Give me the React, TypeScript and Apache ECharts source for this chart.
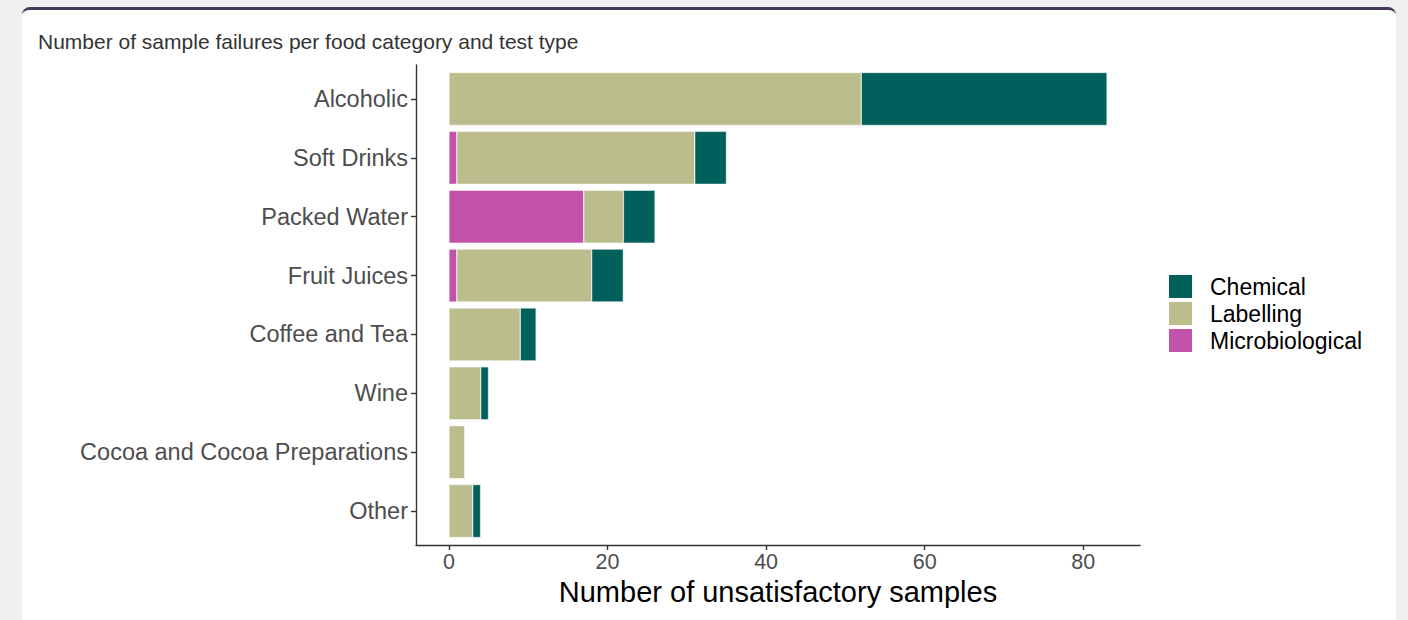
import React, { useEffect, useRef } from 'react';
import * as echarts from 'echarts';

const chartTitle = 'Number of sample failures per food category and test type';
const xAxisName = 'Number of unsatisfactory samples';
const categories = [
  'Alcoholic',
  'Soft Drinks',
  'Packed Water',
  'Fruit Juices',
  'Coffee and Tea',
  'Wine',
  'Cocoa and Cocoa Preparations',
  'Other',
];
const microbiological = [0, 1, 17, 1, 0, 0, 0, 0];
const labelling = [52, 30, 5, 17, 9, 4, 2, 3];
const chemical = [31, 4, 4, 4, 2, 1, 0, 1];
const xTicks = [0, 20, 40, 60, 80];
const legendOrder = ['Chemical', 'Labelling', 'Microbiological'];
const xMin = -4.15;
const xMax = 87.15;

const colors: Record<string, string> = {
  Chemical: '#00605b',
  Labelling: '#bbbd8c',
  Microbiological: '#c251a9',
};

const FONT = '"Liberation Sans", Arial, sans-serif';

export default function App() {
  const ref = useRef<HTMLDivElement>(null);

  useEffect(() => {
    if (!ref.current) return;
    const chart = echarts.init(ref.current, undefined, { renderer: 'svg' });
    const toData = (arr: number[]) => arr.map((v) => (v === 0 ? null : v));
    const mkSeries = (name: string, data: number[]) => ({
      name,
      type: 'bar',
      stack: 'total',
      xAxisIndex: 0,
      yAxisIndex: 0,
      barCategoryGap: '10%',
      data: toData(data),
      itemStyle: { color: colors[name], borderColor: '#ffffff', borderWidth: 0.5 },
      emphasis: { disabled: true },
    });
    chart.setOption({
      animation: false,
      textStyle: { fontFamily: FONT },
      title: {
        text: chartTitle,
        left: 33,
        top: 26,
        textStyle: { fontSize: 21, fontWeight: 'normal', color: '#333333', fontFamily: FONT },
      },
      legend: {
        orient: 'vertical',
        left: 1167,
        top: 273,
        padding: 0,
        itemWidth: 25,
        itemHeight: 25,
        itemGap: 0,
        icon: 'rect',
        data: legendOrder,
        textStyle: { fontSize: 23, lineHeight: 25, color: '#000000', fontFamily: FONT, padding: [0, 0, 0, 12] },
      },
      grid: [
        { left: 416, right: 268, top: 69.5, bottom: 79.5 },
        { left: 416, right: 268, top: 65, bottom: 75 },
      ],
      xAxis: [
        { type: 'value', gridIndex: 0, min: xMin, max: xMax, show: false, axisLine: { onZero: false } },
        {
          type: 'value',
          gridIndex: 1,
          min: xMin,
          max: xMax,
          position: 'bottom',
          splitLine: { show: false },
          axisLine: { show: true, onZero: false, lineStyle: { color: '#333333', width: 1.4 } },
          axisTick: { show: true, length: 5, lineStyle: { color: '#333333', width: 1.4 }, customValues: xTicks },
          axisLabel: {
            customValues: xTicks,
            fontSize: 21.5,
            color: '#4d4d4d',
            margin: 6,
            fontFamily: FONT,
          },
          name: xAxisName,
          nameLocation: 'middle',
          nameGap: 31,
          nameTextStyle: { fontSize: 29, color: '#000000', fontFamily: FONT },
        },
      ],
      yAxis: [
        {
          type: 'category',
          gridIndex: 0,
          data: categories,
          inverse: true,
          position: 'left',
          axisLine: { show: false, onZero: false },
          axisTick: { show: true, length: 5, alignWithLabel: true, lineStyle: { color: '#333333', width: 1.4 } },
          axisLabel: { fontSize: 23.5, color: '#4d4d4d', margin: 8, fontFamily: FONT },
          splitLine: { show: false },
        },
        {
          type: 'value',
          gridIndex: 1,
          min: 0,
          max: 1,
          position: 'left',
          axisLine: { show: true, onZero: false, lineStyle: { color: '#333333', width: 1.4 } },
          axisTick: { show: false },
          axisLabel: { show: false },
          splitLine: { show: false },
        },
      ],
      series: [
        mkSeries('Microbiological', microbiological),
        mkSeries('Labelling', labelling),
        mkSeries('Chemical', chemical),
      ],
    });
    return () => chart.dispose();
  }, []);

  return (
    <div style={{ position: 'fixed', left: 0, top: 0, width: 1408, height: 620, background: '#efefef', overflow: 'hidden' }}>
      <div
        style={{
          position: 'absolute',
          left: 22,
          top: 7,
          width: 1374,
          height: 660,
          background: '#ffffff',
          borderTop: '3px solid #463858',
          borderRadius: '8px 8px 0 0',
          boxSizing: 'border-box',
        }}
      />
      <div ref={ref} style={{ position: 'absolute', left: 0, top: 0, width: 1408, height: 620 }} />
    </div>
  );
}
